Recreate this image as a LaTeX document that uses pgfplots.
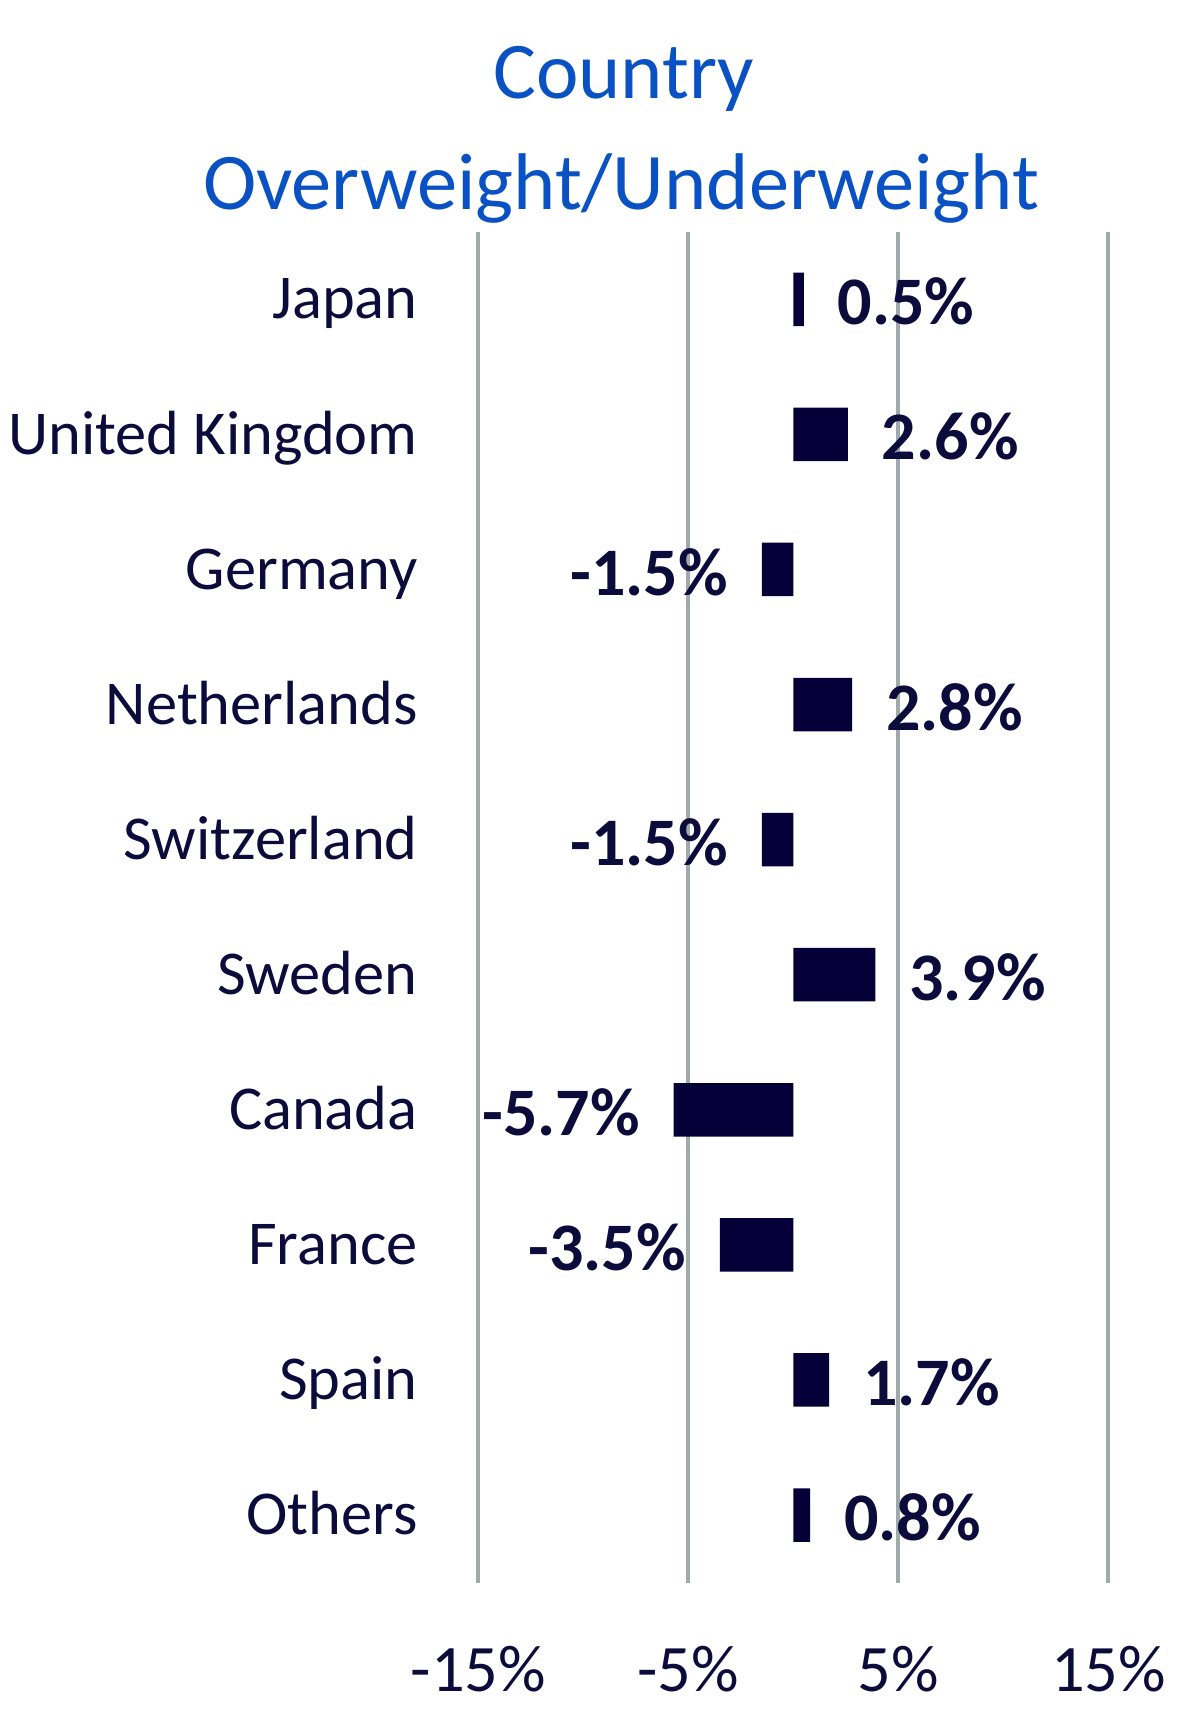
\documentclass[border=0pt]{standalone}
\usepackage{fontspec}
\setmainfont{Carlito}
\usepackage{pgfplots}
\pgfplotsset{compat=1.18}
\definecolor{titleblue}{RGB}{10,82,196}
\definecolor{navytext}{RGB}{12,12,60}
\definecolor{barnavy}{RGB}{5,0,56}
\definecolor{gridgray}{RGB}{160,170,170}
\begin{document}
\begin{tikzpicture}
\useasboundingbox (0,0) rectangle (300pt,431.75pt);
\node[anchor=base, text=titleblue, font=\fontsize{20.1pt}{24pt}\selectfont, inner sep=0pt] at (155.9pt,407.2pt) {Country};
\node[anchor=base, text=titleblue, font=\fontsize{20.1pt}{24pt}\selectfont, inner sep=0pt] at (155.25pt,379.25pt) {Overweight/Underweight};
\begin{axis}[
  at={(119.6pt,36.1pt)}, anchor=south west,
  scale only axis, width=157.5pt, height=337.7pt,
  xbar, bar width=0.396, bar shift=0pt,
  xmin=-15, xmax=15, ymin=-0.5, ymax=9.5,
  y dir=reverse,
  xtick={-15,-5,5,15},
  xticklabels={-15\%,-5\%,5\%,15\%},
  ytick={0,...,9},
  yticklabels={Japan,United Kingdom,Germany,Netherlands,Switzerland,Sweden,Canada,France,Spain,Others},
  axis line style={draw=none},
  major tick length=0pt,
  tick style={draw=none},
  xmajorgrids, ymajorgrids=false,
  major grid style={draw=gridgray, line width=1pt},
  xticklabel style={anchor=base, inner sep=0pt, yshift=-27.3pt, text=navytext, font=\fontsize{16.6pt}{20pt}\selectfont},
  yticklabel style={anchor=base east, inner sep=0pt, xshift=-15pt, yshift=-4.9pt, text=navytext, font=\fontsize{15.6pt}{19pt}\selectfont},
  point meta=explicit symbolic,
  nodes near coords,
  clip=false,
]
\addplot[fill=barnavy, draw=none,
  every node near coord/.append style={anchor=west, text=navytext, font=\bfseries\fontsize{17pt}{20pt}\selectfont, inner xsep=8.3pt, inner ysep=0pt, yshift=-0.6pt}]
  coordinates {
  (0.5,0) [0.5\%]
  (2.6,1) [2.6\%]
  (2.8,3) [2.8\%]
  (3.9,5) [3.9\%]
  (1.7,8) [1.7\%]
  (0.8,9) [0.8\%]
};
\addplot[fill=barnavy, draw=none,
  every node near coord/.append style={anchor=east, text=navytext, font=\bfseries\fontsize{17pt}{20pt}\selectfont, inner xsep=8.3pt, inner ysep=0pt, yshift=-0.6pt}]
  coordinates {
  (-1.5,2) [-1.5\%]
  (-1.5,4) [-1.5\%]
  (-5.7,6) [-5.7\%]
  (-3.5,7) [-3.5\%]
};
\end{axis}
\end{tikzpicture}
\end{document}
